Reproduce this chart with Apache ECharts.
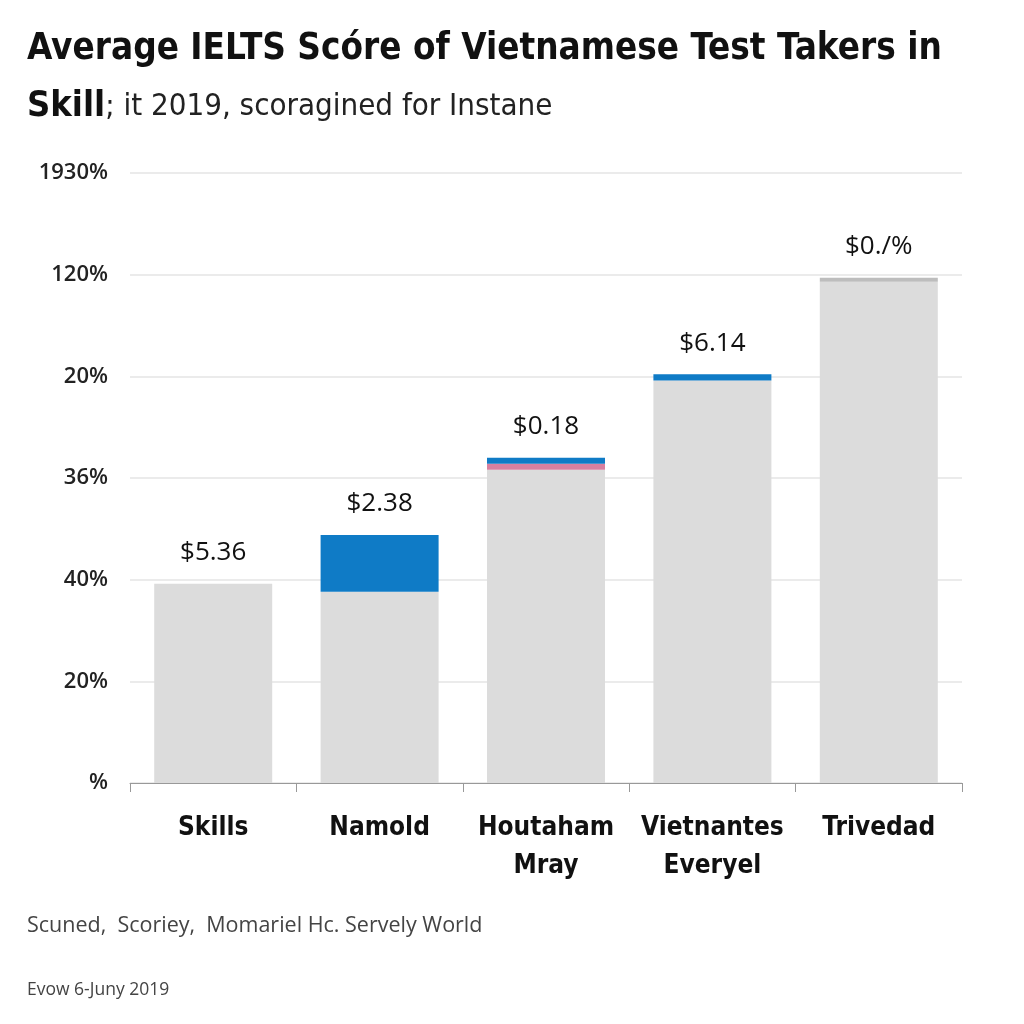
<!DOCTYPE html>
<html><head><meta charset="utf-8">
<script src="https://cdn.jsdelivr.net/npm/echarts@6/dist/echarts.min.js"></script>
<style>html,body{margin:0;padding:0;background:#fff}#c{width:1024px;height:1024px}</style>
</head><body><div id="c"></div>
<script>
const categories = ['Skills', 'Namold', 'Houtaham\nMray', 'Vietnantes\nEveryel', 'Trivedad'];
const baseValues = [1.96, 1.88, 3.08, 3.96, 4.93];
const pinkValues = [0, 0, 0.06, 0, 0];
const blueValues = [0, 0.56, 0.06, 0.06, 0];
const capValues = [0, 0, 0, 0, 0.04];
const valueLabels = ['$5.36', '$2.38', '$0.18', '$6.14', '$0./%'];
const yTickLabels = ['%', '20%', '40%', '36%', '20%', '120%', '1930%'];

const chart = echarts.init(document.getElementById('c'), null, {renderer: 'canvas'});
const condensed = '"DejaVu Sans Condensed", "Liberation Sans Narrow", sans-serif';
const barW = 118;
chart.setOption({
  backgroundColor: '#ffffff',
  animation: false,
  title: [{
    text: 'Average IELTS Scóre of Vietnamese Test Takers in',
    left: 22, top: 26,
    textStyle: {fontFamily: condensed, fontWeight: 'bold', fontSize: 36.5, color: '#111'}
  }, {
    text: '{b|Skill}{n|; it 2019, scoragined for Instane}',
    left: 22, top: 84,
    textStyle: {rich: {
      b: {fontFamily: condensed, fontWeight: 'bold', fontSize: 36, color: '#111'},
      n: {fontFamily: condensed, fontWeight: 'normal', fontSize: 31, color: '#222'}
    }}
  }, {
    text: 'Scuned,  Scoriey,  Momariel Hc. Servely World',
    left: 22, top: 910,
    textStyle: {fontFamily: '"Open Sans", sans-serif', fontWeight: 'normal', fontSize: 21.5, color: '#444'}
  }, {
    text: 'Evow 6-Juny 2019',
    left: 22, top: 976,
    textStyle: {fontFamily: '"Open Sans", sans-serif', fontWeight: 'normal', fontSize: 17.5, color: '#444'}
  }],
  grid: {left: 130, right: 62, top: 173, bottom: 241, containLabel: false},
  xAxis: {
    type: 'category', data: categories,
    axisLine: {lineStyle: {color: '#999'}},
    axisTick: {show: true, interval: 0, length: 9, lineStyle: {color: '#999'}},
    axisLabel: {interval: 0, fontFamily: condensed, fontSize: 26, color: '#111', margin: 26, lineHeight: 38, fontWeight: 'bold'}
  },
  yAxis: {
    type: 'value', min: 0, max: 6, interval: 1,
    axisLine: {show: false}, axisTick: {show: false},
    splitLine: {lineStyle: {color: '#e4e4e4', width: 1.5}},
    axisLabel: {
      formatter: v => yTickLabels[Math.round(v)] || '',
      fontFamily: '"Open Sans", sans-serif', fontSize: 22, fontWeight: 600, color: '#222', margin: 22
    }
  },
  series: [
    {type: 'bar', stack: 's', data: baseValues, barWidth: barW, itemStyle: {color: '#dcdcdc'}},
    {type: 'bar', stack: 's', data: pinkValues, barWidth: barW, itemStyle: {color: '#d880a0'}},
    {type: 'bar', stack: 's', data: blueValues, barWidth: barW, itemStyle: {color: '#0f7bc6'}},
    {type: 'bar', stack: 's', data: capValues, barWidth: barW, itemStyle: {color: '#bdbdbd'},
     label: {show: true, position: 'top', distance: 18,
       formatter: p => valueLabels[p.dataIndex],
       fontFamily: '"Open Sans", sans-serif', fontSize: 26, color: '#111'}}
  ]
});
</script></body></html>
